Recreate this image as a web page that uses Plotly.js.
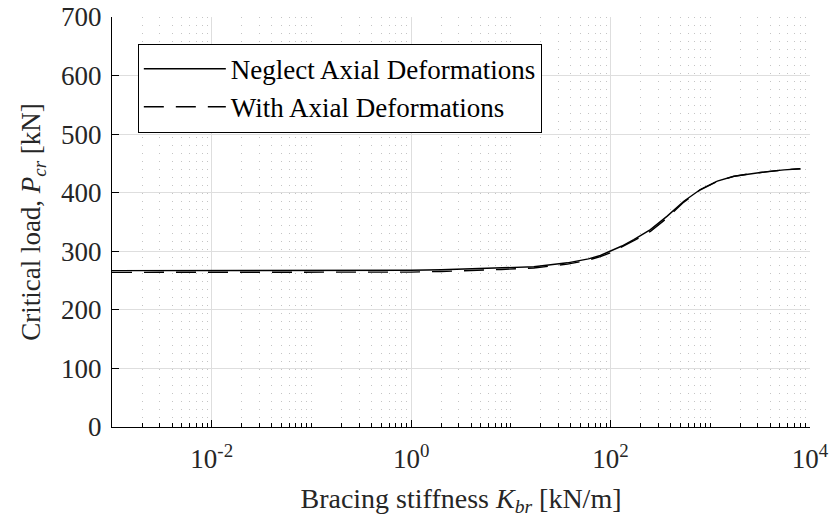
<!DOCTYPE html>
<html>
<head>
<meta charset="utf-8">
<script src="https://cdn.plot.ly/plotly-3.0.1.min.js"></script>
<style>html,body{margin:0;padding:0;background:#fff;}#chart{width:831px;height:519px;}</style>
</head>
<body>
<div id="chart"></div>
<script>
// Bracing stiffness K_br [kN/m]
const kValues = [0.001, 0.01, 0.1, 1, 2, 4, 8, 17, 37, 60, 79, 100, 130, 171, 251, 370, 543, 795, 1175, 1722, 2500, 3720, 5500, 8000];
// Critical load, neglecting axial deformations [kN]
const pNeglect = [267, 267, 267, 267.5, 268.5, 270, 271.8, 273.5, 280.3, 287, 292.8, 300, 309, 320, 337, 360, 385.5, 405.5, 419.7, 428, 432.5, 436, 439, 441];
// Critical load, with axial deformations [kN]
const pWith = [264, 264, 264, 264.5, 265.5, 267, 269, 271.5, 278, 285, 291, 297.5, 307, 318, 334, 357, 384, 405, 419.5, 428, 432.5, 436, 439, 441];

const seriesNames = ["Neglect Axial Deformations", "With Axial Deformations"];
const majorTicks = [0.01, 1, 100, 10000];
const majorTickText = ["10<sup>-2</sup>", "10<sup>0</sup>", "10<sup>2</sup>", "10<sup>4</sup>"];
const yTicks = [0, 100, 200, 300, 400, 500, 600, 700];

const minorTicks = [];
for (let d = -3; d <= 3; d++) {
  for (let m = 1; m <= 9; m++) {
    const v = m * Math.pow(10, d);
    if (majorTicks.some(t => Math.abs(t - v) / t < 1e-9)) continue;
    if (d === -3 && m === 1) continue;
    minorTicks.push(v);
  }
}

const font = "Liberation Serif, Times New Roman, serif";

const traces = [
  {x: kValues, y: pNeglect, mode: "lines", name: seriesNames[0],
   line: {color: "#000", width: 1.4}},
  {x: kValues, y: pWith, mode: "lines", name: seriesNames[1],
   line: {color: "#000", width: 1.4, dash: "20px,12px"}}
];

const layout = {
  width: 831, height: 519,
  margin: {l: 112, r: 21, t: 17, b: 92},
  paper_bgcolor: "#fff", plot_bgcolor: "#fff",
  font: {family: font, size: 27, color: "#262626"},
  showlegend: true,
  legend: {x: 0.037, y: 0.935, xanchor: "left", yanchor: "top",
    bgcolor: "#fff", bordercolor: "#000", borderwidth: 1, itemwidth: 82,
    font: {family: font, size: 27, color: "#000"}},
  xaxis: {
    type: "log", range: [-3, 4], autorange: false,
    tickmode: "array", tickvals: majorTicks, ticktext: majorTickText,
    ticks: "inside", ticklen: 7, tickwidth: 1, tickcolor: "#000",
    ticklabelstandoff: 8,
    showline: true, linecolor: "#000", linewidth: 1, mirror: false,
    showgrid: true, gridcolor: "#dedede", gridwidth: 1,
    zeroline: false,
    tickfont: {family: font, size: 27, color: "#262626"},
    minor: {tickmode: "array", tickvals: minorTicks, ticks: "inside", ticklen: 4,
      tickcolor: "#000", tickwidth: 1, showgrid: true, gridcolor: "#c4c4c4",
      griddash: "1px,7px", gridwidth: 1},
    title: {text: "Bracing stiffness <i>K</i><sub><i>br</i></sub> [kN/m]",
      font: {family: font, size: 28, color: "#262626"}, standoff: 14}
  },
  yaxis: {
    range: [0, 700], autorange: false,
    tickmode: "array", tickvals: yTicks,
    ticks: "inside", ticklen: 7, tickwidth: 1, tickcolor: "#000",
    ticklabelstandoff: 4,
    showline: true, linecolor: "#000", linewidth: 1,
    showgrid: true, gridcolor: "#dedede", gridwidth: 1,
    zeroline: false,
    tickfont: {family: font, size: 27, color: "#262626"},
    title: {text: "Critical load, <i>P</i><sub><i>cr</i></sub> [kN]",
      font: {family: font, size: 27, color: "#262626"}, standoff: 12}
  }
};

Plotly.newPlot("chart", traces, layout, {displayModeBar: false, staticPlot: true});
</script>
</body>
</html>
